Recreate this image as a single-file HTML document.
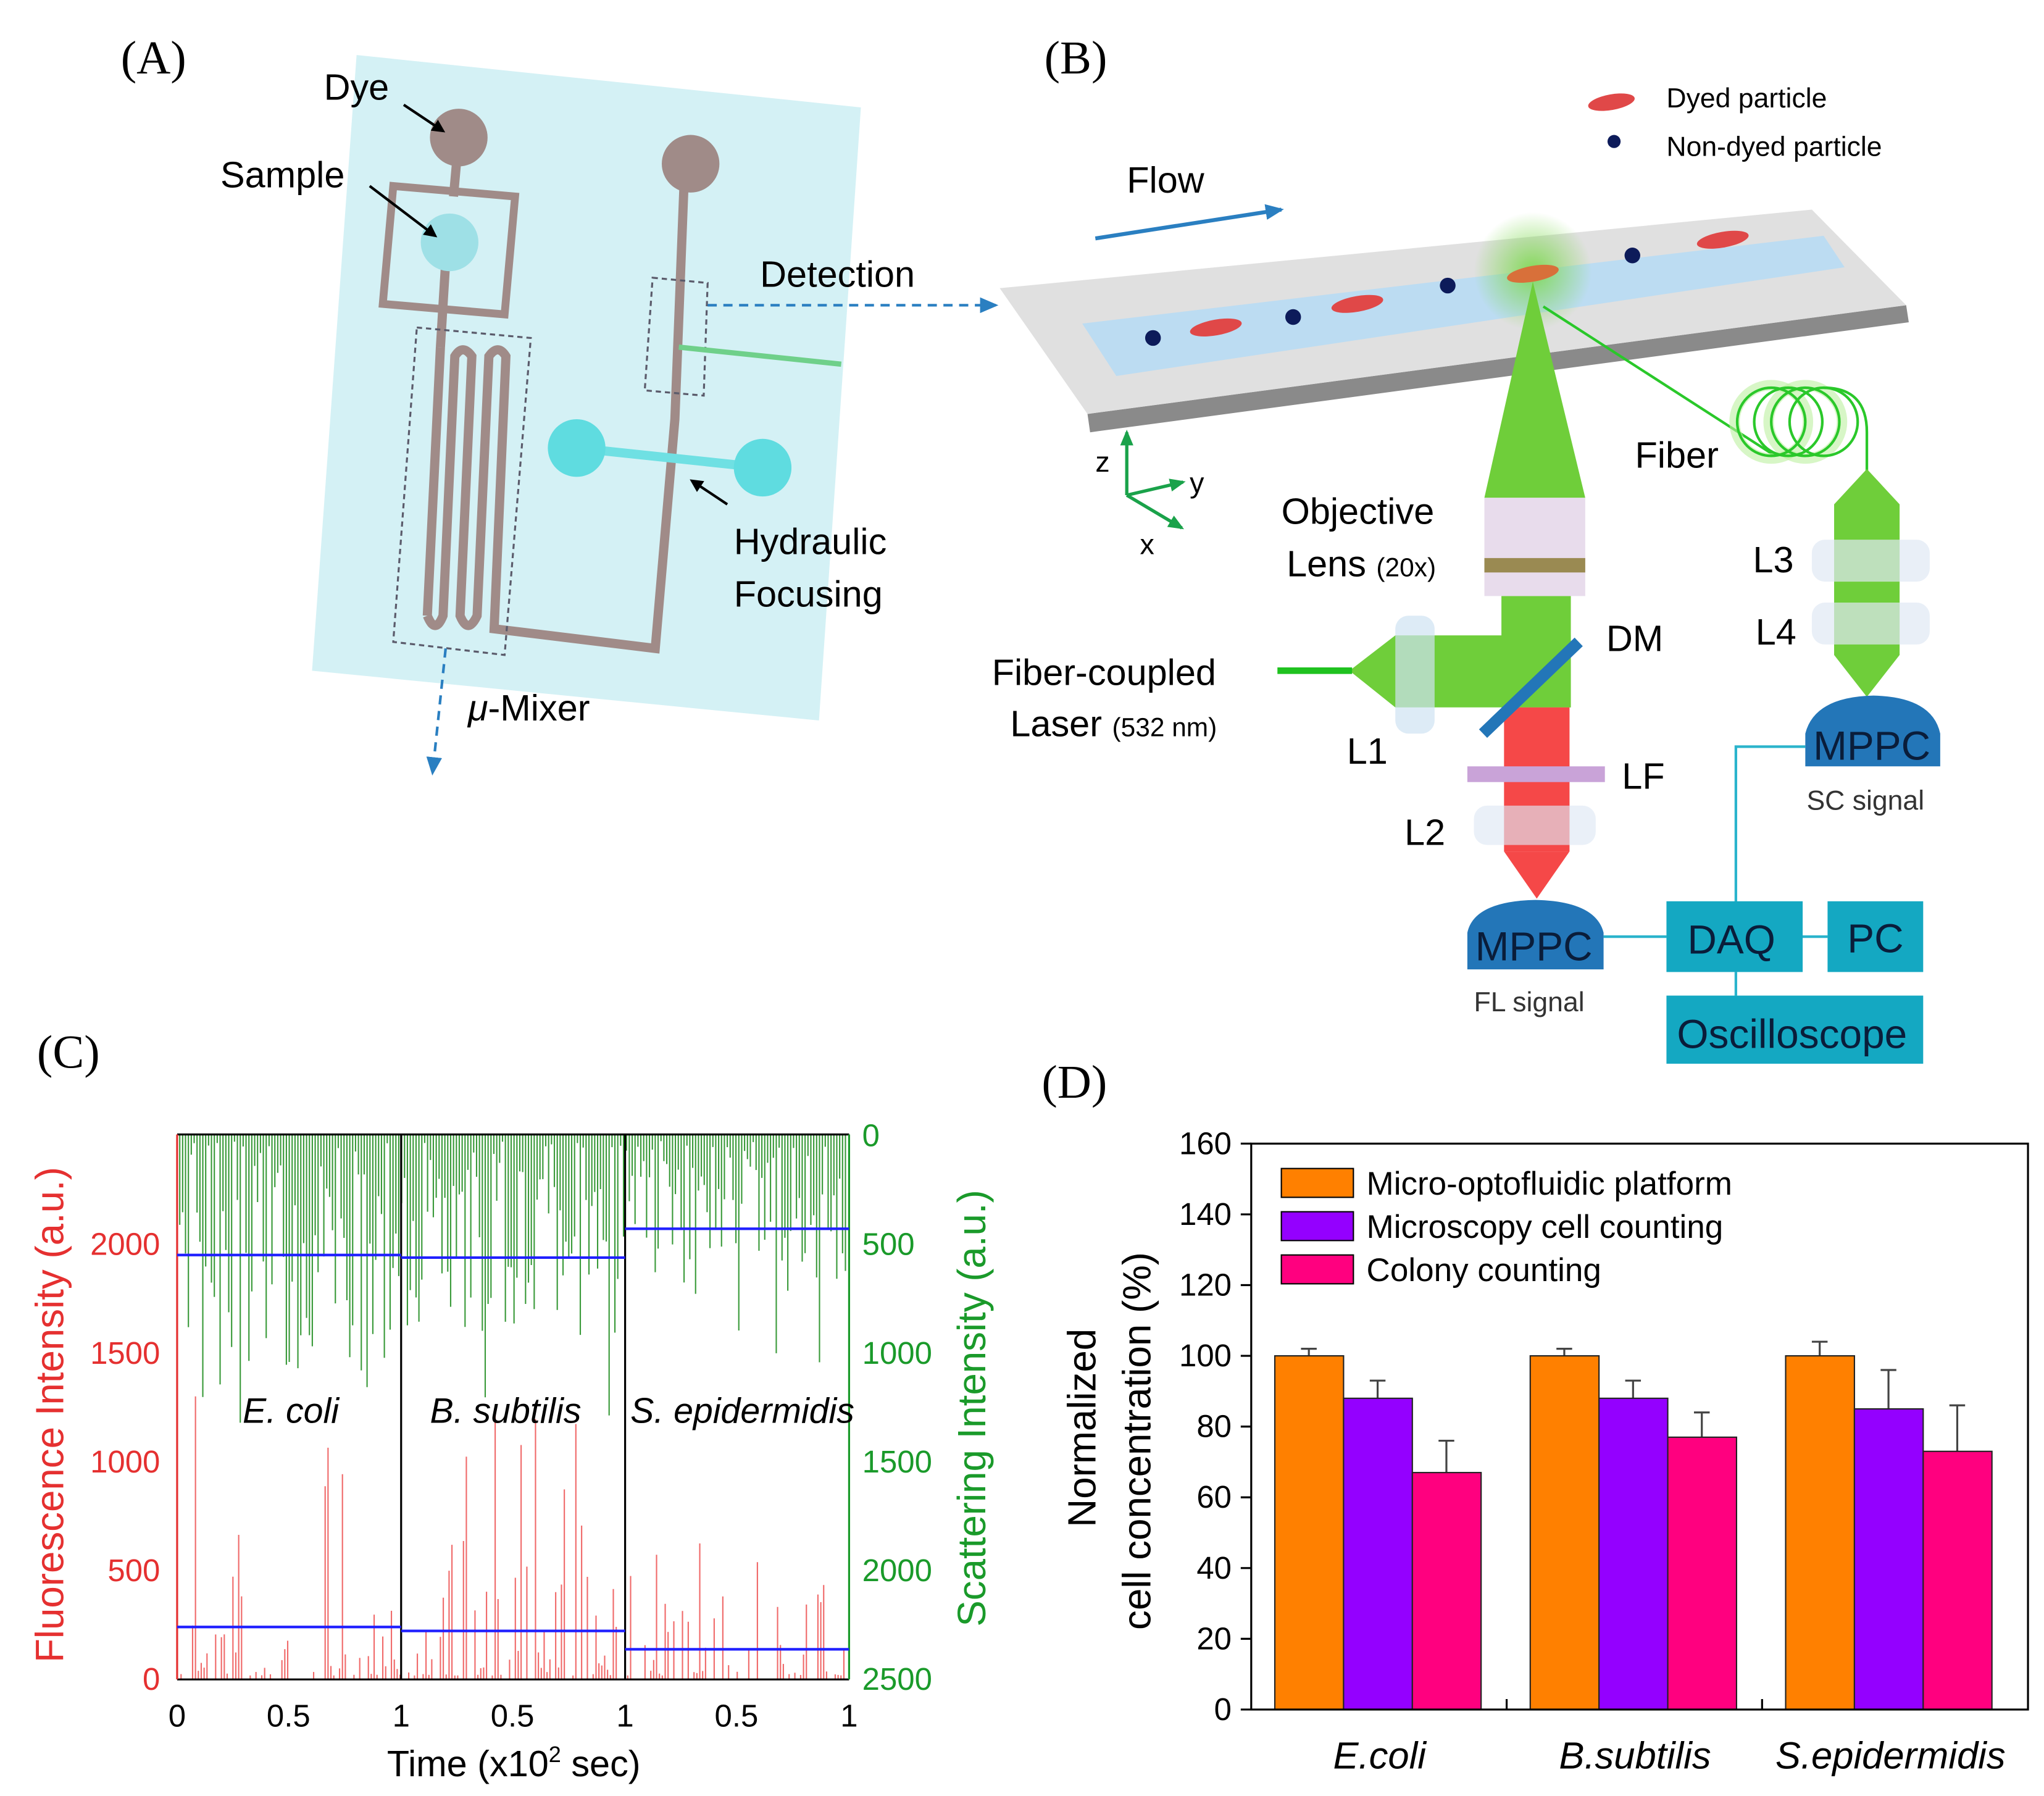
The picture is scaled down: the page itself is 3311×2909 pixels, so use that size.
<!DOCTYPE html>
<html><head><meta charset="utf-8"><style>
html,body{margin:0;padding:0;background:#fff}
svg{display:block}
text{font-family:"Liberation Sans",sans-serif}
.serif{font-family:"Liberation Serif",serif}
</style></head><body>
<svg id="s" xmlns="http://www.w3.org/2000/svg" width="3311" height="2909" viewBox="0 0 1560 1371">
<defs>
<radialGradient id="glow"><stop offset="0" stop-color="#7ad84a" stop-opacity=".9"/><stop offset="1" stop-color="#7ad84a" stop-opacity="0"/></radialGradient>
<marker id="ah" markerWidth="10" markerHeight="10" refX="8" refY="5" orient="auto" markerUnits="userSpaceOnUse"><path d="M0,0 L10,5 L0,10 z" fill="#000"/></marker>
<marker id="bh" markerWidth="14" markerHeight="12" refX="12" refY="6" orient="auto" markerUnits="userSpaceOnUse"><path d="M0,0 L14,6 L0,12 z" fill="#2a7fc1"/></marker>
<marker id="gh" markerWidth="12" markerHeight="10" refX="10" refY="5" orient="auto" markerUnits="userSpaceOnUse"><path d="M0,0 L12,5 L0,10 z" fill="#1aa24a"/></marker>
</defs>
<rect width="1560" height="1371" fill="#fff"/>

<!-- PANEL A -->
<text x="92" y="56" class="serif" font-size="36">(A)</text>
<polygon points="272,42 657,82 625,550 238,512" fill="#c9eef2" opacity=".8"/>
<g stroke="#a08b88" stroke-width="7" fill="none">
<line x1="350" y1="105" x2="346" y2="150"/>
<polygon points="300,142 393,150 385,240 292,232" stroke-width="6"/>
<line x1="340" y1="200" x2="336" y2="265"/>
<path d="M336,265 L326,470 M326,470 Q332,485 338,470 L347,272 Q353,262 360,272 L351,470 Q357,485 364,470 L373,272 Q380,262 386,272 L377,480 L500,495 L515,320 L522,140"/>
<line x1="522" y1="140" x2="527" y2="125"/>
</g>
<g stroke="#5b5b6b" stroke-width="1.5" stroke-dasharray="4,3" fill="none">
<polygon points="318,250 405,258 385,500 300,490"/>
<polygon points="498,212 540,216 537,302 492,298"/>
</g>
<line x1="518" y1="265" x2="642" y2="278" stroke="#6fd08a" stroke-width="4"/>
<circle cx="350" cy="105" r="22" fill="#a08b88"/>
<circle cx="527" cy="125" r="22" fill="#a08b88"/>
<circle cx="343" cy="185" r="22" fill="#9ee0e6"/>
<line x1="440" y1="342" x2="582" y2="357" stroke="#6fe0e3" stroke-width="7"/>
<circle cx="440" cy="342" r="22" fill="#5fdce0"/>
<circle cx="582" cy="357" r="22" fill="#5fdce0"/>
<text x="247" y="76" font-size="28">Dye</text>
<line x1="308" y1="80" x2="338" y2="100" stroke="#000" stroke-width="2" marker-end="url(#ah)"/>
<text x="168" y="143" font-size="28">Sample</text>
<line x1="282" y1="142" x2="332" y2="180" stroke="#000" stroke-width="2" marker-end="url(#ah)"/>
<text x="580" y="219" font-size="28">Detection</text>
<line x1="540" y1="233" x2="760" y2="233" stroke="#2a7fc1" stroke-width="2" stroke-dasharray="7,5" marker-end="url(#bh)"/>
<line x1="555" y1="385" x2="528" y2="367" stroke="#000" stroke-width="2" marker-end="url(#ah)"/>
<text x="560" y="423" font-size="28">Hydraulic</text>
<text x="560" y="463" font-size="28">Focusing</text>
<line x1="340" y1="495" x2="330" y2="590" stroke="#2a7fc1" stroke-width="2" stroke-dasharray="7,5" marker-end="url(#bh)"/>
<text x="357" y="550" font-size="28"><tspan font-style="italic">μ</tspan>-Mixer</text>

<!-- PANEL B -->
<text x="797" y="56" class="serif" font-size="36">(B)</text>
<ellipse cx="1230" cy="78" rx="18" ry="6" fill="#e04848" transform="rotate(-10 1230 78)"/>
<text x="1272" y="82" font-size="21">Dyed particle</text>
<circle cx="1232" cy="108" r="5" fill="#0d1b5a"/>
<text x="1272" y="119" font-size="21">Non-dyed particle</text>
<text x="860" y="147" font-size="28">Flow</text>
<line x1="836" y1="182" x2="978" y2="160" stroke="#2a7fc1" stroke-width="3" marker-end="url(#bh)"/>
<polygon points="830,316 1455,233 1457,246 832,330" fill="#8a8a8a"/>
<polygon points="763,220 1383,160 1455,233 830,316" fill="#e0e0e0"/>
<polygon points="826,247 1392,180 1408,204 852,287" fill="#bcdcf2"/>
<circle cx="1170" cy="207" r="45" fill="url(#glow)"/>
<circle cx="880" cy="258" r="6" fill="#0d1b5a"/><circle cx="987" cy="242" r="6" fill="#0d1b5a"/>
<circle cx="1105" cy="218" r="6" fill="#0d1b5a"/><circle cx="1246" cy="195" r="6" fill="#0d1b5a"/>
<g fill="#e04848">
<ellipse cx="928" cy="250" rx="20" ry="6" transform="rotate(-10 928 250)"/>
<ellipse cx="1036" cy="232" rx="20" ry="6" transform="rotate(-10 1036 232)"/>
<ellipse cx="1170" cy="209" rx="20" ry="6" fill="#d8703a" transform="rotate(-10 1170 209)"/>
<ellipse cx="1315" cy="183" rx="20" ry="6" transform="rotate(-10 1315 183)"/>
</g>
<!-- axes -->
<g stroke="#1aa24a" stroke-width="2.5">
<line x1="860" y1="378" x2="860" y2="330" marker-end="url(#gh)"/>
<line x1="860" y1="378" x2="903" y2="368" marker-end="url(#gh)"/>
<line x1="860" y1="378" x2="902" y2="403" marker-end="url(#gh)"/>
</g>
<text x="836" y="360" font-size="22">z</text><text x="908" y="376" font-size="22">y</text><text x="870" y="423" font-size="22">x</text>
<!-- main green beam -->
<polygon points="1170,215 1210,380 1133,380" fill="#6fce3a"/>
<rect x="1146" y="455" width="53" height="85" fill="#6fce3a"/>
<polygon points="1030,512 1065,485 1199,485 1199,540 1065,540" fill="#6fce3a"/>
<line x1="975" y1="512" x2="1032" y2="512" stroke="#1fc21f" stroke-width="5"/>
<rect x="1133" y="380" width="77" height="75" fill="#e8dcec"/>
<rect x="1133" y="426" width="77" height="11" fill="#9a8a52"/>
<rect x="1065" y="470" width="30" height="90" rx="10" fill="#cfe2f2" opacity=".7"/>
<rect x="1148" y="540" width="50" height="110" fill="#f54848"/>
<polygon points="1148,650 1198,650 1173,686" fill="#f54848"/>
<line x1="1132" y1="560" x2="1205" y2="490" stroke="#2376b8" stroke-width="9"/>
<rect x="1120" y="585" width="105" height="12" fill="#c9a3d8"/>
<rect x="1125" y="615" width="93" height="30" rx="10" fill="#dfe8f4" opacity=".65"/>
<path d="M1120,740 L1120,712 Q1125,688 1172,687 Q1218,688 1224,712 L1224,740 Z" fill="#2376b8"/>
<text x="1126" y="733" font-size="31" fill="#0a1d3a">MPPC</text>
<text x="1125" y="772" font-size="21" fill="#333">FL signal</text>
<!-- fiber -->
<g fill="none" stroke="#2ac82a" stroke-width="2">
<line x1="1178" y1="234" x2="1355" y2="348"/>
<circle cx="1352" cy="322" r="28" stroke="#bdf0a0" stroke-width="8" opacity=".6"/>
<circle cx="1378" cy="322" r="28" stroke="#bdf0a0" stroke-width="8" opacity=".6"/>
<circle cx="1352" cy="322" r="26"/><circle cx="1365" cy="322" r="26"/><circle cx="1378" cy="322" r="26"/><circle cx="1392" cy="322" r="26"/>
<path d="M1392,296 Q1425,296 1425,330 L1425,360"/>
</g>
<polygon points="1425,358 1450,385 1450,500 1425,532 1400,500 1400,385" fill="#6fce3a"/>
<rect x="1383" y="412" width="90" height="32" rx="10" fill="#dfe8f4" opacity=".7"/>
<rect x="1383" y="460" width="90" height="32" rx="10" fill="#dfe8f4" opacity=".7"/>
<path d="M1378,585 L1378,560 Q1385,532 1430,531 Q1475,532 1481,560 L1481,585 Z" fill="#2376b8"/>
<text x="1384" y="580" font-size="31" fill="#0a1d3a">MPPC</text>
<text x="1379" y="618" font-size="21" fill="#333">SC signal</text>
<g stroke="#2bb4cc" stroke-width="2" fill="none">
<polyline points="1378,570 1325,570 1325,700"/>
<line x1="1224" y1="715" x2="1272" y2="715"/>
<line x1="1375" y1="715" x2="1395" y2="715"/>
<line x1="1325" y1="742" x2="1325" y2="760"/>
</g>
<rect x="1272" y="688" width="104" height="54" fill="#14a8c2"/>
<rect x="1395" y="688" width="73" height="54" fill="#14a8c2"/>
<rect x="1272" y="760" width="196" height="52" fill="#14a8c2"/>
<text x="1288" y="728" font-size="31" fill="#0a1d3a">DAQ</text>
<text x="1410" y="727" font-size="31" fill="#0a1d3a">PC</text>
<text x="1280" y="800" font-size="31" fill="#0a1d3a">Oscilloscope</text>
<g font-size="28">
<text x="1248" y="357">Fiber</text>
<text x="978" y="400">Objective</text>
<text x="982" y="440">Lens <tspan font-size="20">(20x)</tspan></text>
<text x="1226" y="497">DM</text>
<text x="757" y="523">Fiber-coupled</text>
<text x="771" y="562">Laser <tspan font-size="20">(532 nm)</tspan></text>
<text x="1028" y="583">L1</text>
<text x="1238" y="602">LF</text>
<text x="1072" y="645">L2</text>
<text x="1338" y="437">L3</text>
<text x="1340" y="492">L4</text>
</g>

<!-- PANEL C -->
<text x="28" y="815" class="serif" font-size="36">(C)</text>
<g id="cspikes"></g>
<g stroke="#000" stroke-width="1.5" fill="none">
<line x1="135" y1="866" x2="648" y2="866"/>
<line x1="135" y1="1282" x2="648" y2="1282"/>
<line x1="306" y1="866" x2="306" y2="1282"/>
<line x1="477" y1="866" x2="477" y2="1282"/>
</g>
<line x1="135" y1="866" x2="135" y2="1282" stroke="#e53030" stroke-width="1.5"/>
<line x1="648" y1="866" x2="648" y2="1282" stroke="#1a9a2a" stroke-width="1.5"/>
<g stroke="#2020ff" stroke-width="2">
<line x1="135" y1="958" x2="306" y2="958"/><line x1="306" y1="960" x2="477" y2="960"/><line x1="477" y1="938" x2="648" y2="938"/>
<line x1="135" y1="1242" x2="306" y2="1242"/><line x1="306" y1="1245" x2="477" y2="1245"/><line x1="477" y1="1259" x2="648" y2="1259"/>
</g>
<g font-size="24" fill="#e53030" text-anchor="end">
<text x="122" y="1290">0</text><text x="122" y="1207">500</text><text x="122" y="1124">1000</text><text x="122" y="1041">1500</text><text x="122" y="958">2000</text>
</g>
<g font-size="24" fill="#1a9a2a">
<text x="658" y="875">0</text><text x="658" y="958">500</text><text x="658" y="1041">1000</text><text x="658" y="1124">1500</text><text x="658" y="1207">2000</text><text x="658" y="1290">2500</text>
</g>
<g font-size="24" text-anchor="middle">
<text x="135" y="1318">0</text><text x="220" y="1318">0.5</text><text x="306" y="1318">1</text><text x="391" y="1318">0.5</text><text x="477" y="1318">1</text><text x="562" y="1318">0.5</text><text x="648" y="1318">1</text>
</g>
<text x="392" y="1356" font-size="28" text-anchor="middle">Time (x10<tspan font-size="17" dy="-11">2</tspan><tspan dy="11"> sec)</tspan></text>
<g font-size="27" font-style="italic">
<text x="185" y="1086">E. coli</text><text x="328" y="1086">B. subtilis</text><text x="481" y="1086">S. epidermidis</text>
</g>
<text transform="translate(48,1080) rotate(-90)" font-size="30" fill="#e53030" text-anchor="middle">Fluorescence Intensity (a.u.)</text>
<text transform="translate(752,1075) rotate(-90)" font-size="30" fill="#1a9a2a" text-anchor="middle">Scattering Intensity (a.u.)</text>

<!-- PANEL D -->
<text x="795" y="838" class="serif" font-size="36">(D)</text>
<g id="dbars"></g>
<rect x="955" y="873" width="593" height="432" fill="none" stroke="#000" stroke-width="1.5"/>
<g id="dticks" font-size="24" text-anchor="end"></g>
<rect x="978" y="892" width="55" height="22" fill="#ff8000" stroke="#000"/>
<rect x="978" y="925" width="55" height="22" fill="#9400ff" stroke="#000"/>
<rect x="978" y="958" width="55" height="22" fill="#ff007f" stroke="#000"/>
<g font-size="25"><text x="1043" y="912">Micro-optofluidic platform</text><text x="1043" y="945">Microscopy cell counting</text><text x="1043" y="978">Colony counting</text></g>
<g font-size="29" font-style="italic" text-anchor="middle">
<text x="1053" y="1350">E.coli</text><text x="1248" y="1350">B.subtilis</text><text x="1443" y="1350">S.epidermidis</text>
</g>
<text transform="translate(836,1090) rotate(-90)" font-size="30" text-anchor="middle">Normalized</text>
<text transform="translate(878,1100) rotate(-90)" font-size="30" text-anchor="middle">cell concentration (%)</text>
</svg>
<script>
var NS="http://www.w3.org/2000/svg";
function el(p,n,a){var e=document.createElementNS(NS,n);for(var k in a)e.setAttribute(k,a[k]);p.appendChild(e);return e;}
var seed=7;function r(){seed=(seed*9301+49297)%233280;return seed/233280;}
var g=document.getElementById("cspikes");
for(var x=137;x<647;x+=2.2){
 var seg=x<306?0:(x<477?1:2);
 var gl=[1,0.75,0.55][seg];
 var h=Math.pow(r(),1.6)*200*gl+ (r()<0.25?r()*80:0);
 el(g,"line",{x1:x,y1:866,x2:x,y2:866+h+5,stroke:"#3a9a3a","stroke-width":1});
 var rh=Math.pow(r(),2.5)*[230,200,110][seg];
 if(r()<0.6) el(g,"line",{x1:x+1,y1:1282,x2:x+1,y2:1282-rh-3,stroke:"#f06a6a","stroke-width":1});
}
var d=document.getElementById("dbars");
var y0=1305,s=2.7;
var data=[[973,100,2,88,5,67,9],[1168,100,2,88,5,77,7],[1363,100,4,85,11,73,13]];
var cols=["#ff8000","#9400ff","#ff007f"];
data.forEach(function(q){for(var i=0;i<3;i++){var v=q[1+2*i],e=q[2+2*i],x=q[0]+i*52.5,top=y0-v*s;
 el(d,"line",{x1:x+26,y1:top,x2:x+26,y2:top-e*s,stroke:"#444","stroke-width":1.5});
 el(d,"line",{x1:x+20,y1:top-e*s,x2:x+32,y2:top-e*s,stroke:"#444","stroke-width":1.5});
 el(d,"rect",{x:x,y:top,width:52.5,height:v*s,fill:cols[i],stroke:"#222","stroke-width":1});}});
var t=document.getElementById("dticks");
for(var v=0;v<=160;v+=20){var y=y0-v*s;el(t,"line",{x1:947,y1:y,x2:955,y2:y,stroke:"#000","stroke-width":1.5});var tx=el(t,"text",{x:940,y:y+8});tx.textContent=v;}
[1150,1345].forEach(function(x){el(t,"line",{x1:x,y1:1305,x2:x,y2:1297,stroke:"#000","stroke-width":1.5});});
</script>
</body></html>
